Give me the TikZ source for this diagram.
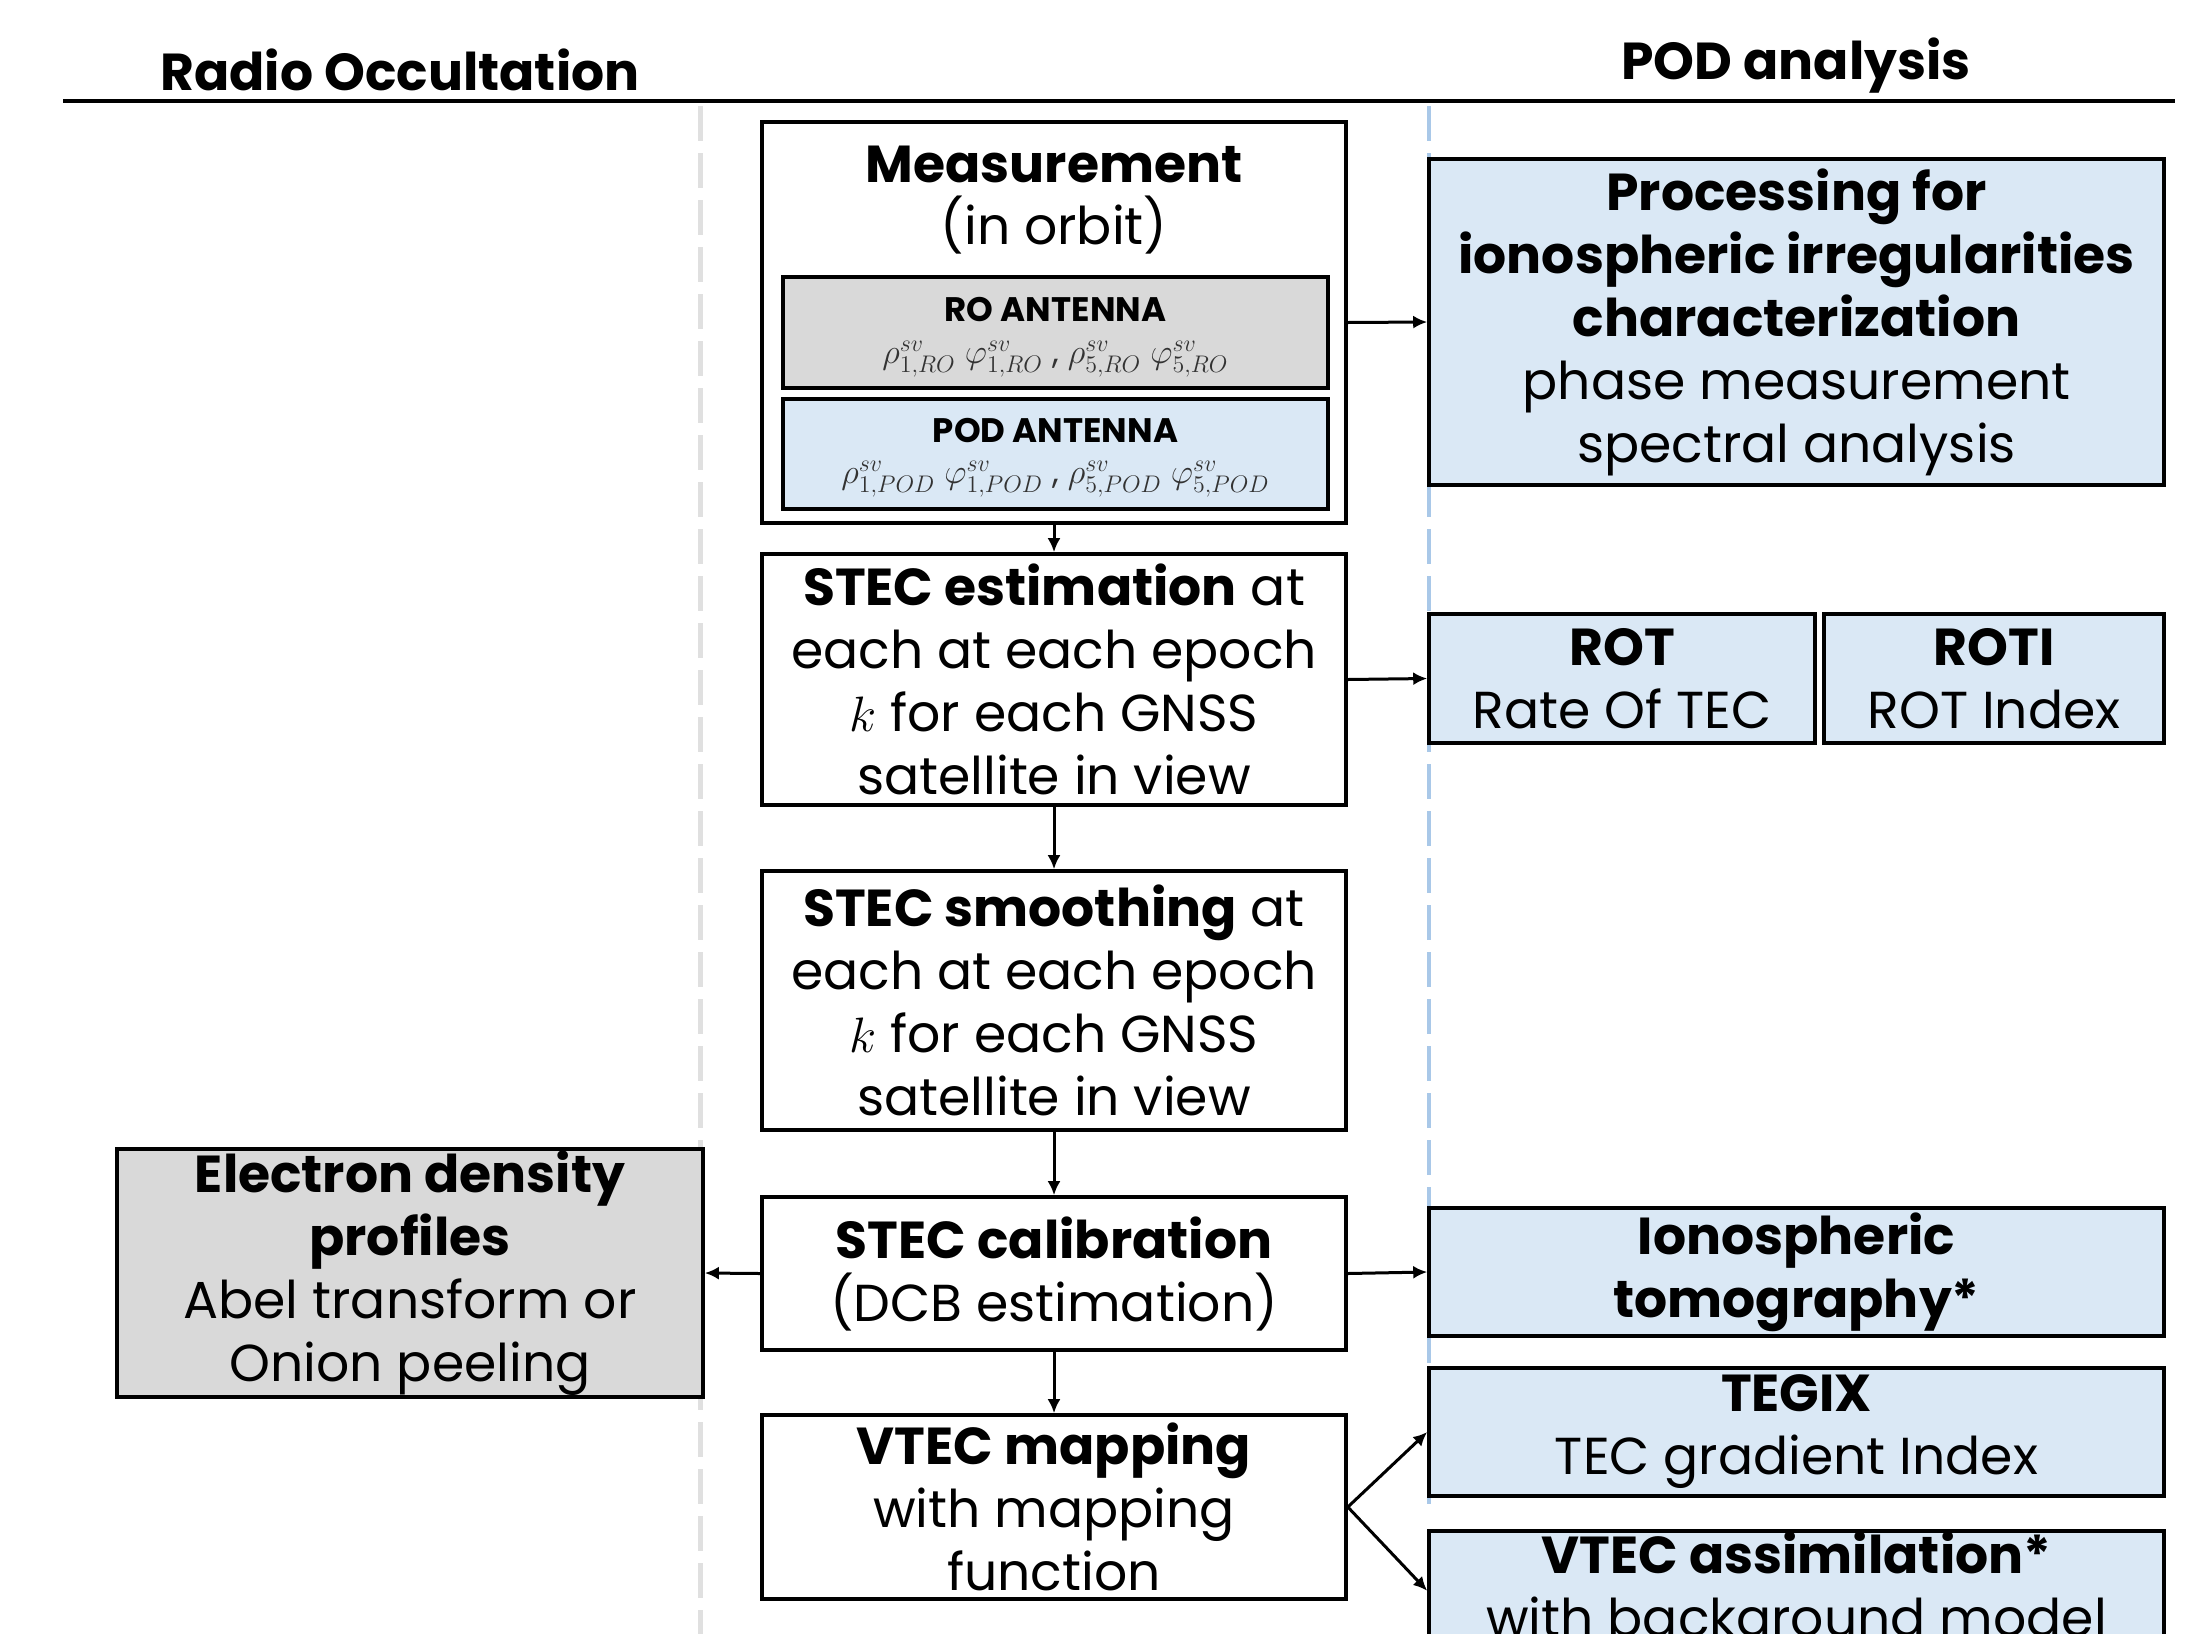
\documentclass[tikz,border=0pt]{standalone}
\usepackage{fontspec}
\setmainfont{Poppins}
\usetikzlibrary{arrows.meta,shadows}
\definecolor{boxblue}{HTML}{DAE8F5}
\definecolor{boxgray}{HTML}{D9D9D9}
\definecolor{sepblue}{HTML}{A9C8E8}
\definecolor{sepgray}{HTML}{E0E0E0}
\definecolor{formcol}{HTML}{333333}
\begin{document}
\begin{tikzpicture}[x=0.5pt,y=-0.5pt,
  sz/.style 2 args={minimum width=#1*0.5pt, minimum height=#2*0.5pt},
  box/.style={draw=black, line width=1.8pt, fill=white, inner sep=0pt, align=center,
    font=\fontsize{26}{31.5}\selectfont,
    drop shadow={shadow xshift=1.2pt, shadow yshift=-1.2pt, fill=black, opacity=0.45}},
  bluebox/.style={box, fill=boxblue},
  graybox/.style={box, fill=boxgray},
  antbox/.style={box, line width=1.6pt},
  anttitle/.style={inner sep=0pt, font=\bfseries\fontsize{17}{20}\selectfont},
  antform/.style={inner sep=0pt, text=formcol, font=\fontsize{17}{20}\selectfont},
  txt/.style={inner sep=0pt, align=center, font=\fontsize{26}{31.5}\selectfont},
  head/.style={inner sep=0pt, font=\bfseries\fontsize{26}{30}\selectfont},
  arr/.style={-{Latex[length=7pt,width=6.5pt]}, line width=1.5pt, black}]
\useasboundingbox (0,0) rectangle (2203,1633);
\clip (0,0) rectangle (2203,1633);
\fill[white] (0,0) rectangle (2203,1633);

% headers
\node[head] (hro) at (400,70) {Radio Occultation};
\node[head] (hpod) at (1796,66) {POD analysis};
\coordinate (hl) at (63,101);
\coordinate (hr) at (2175,101);
\draw[line width=2pt] (hl) -- (hr);

% separators
\coordinate (sg1) at (700,106);
\coordinate (sg2) at (700,1640);
\coordinate (sb1) at (1429,106);
\coordinate (sb2) at (1429,1513);
\draw[sepgray, line width=2.5pt, dash pattern=on 17.5pt off 6pt] (sg1) -- (sg2);
\draw[sepblue, line width=2pt, dash pattern=on 17.5pt off 6pt] (sb1) -- (sb2);

% central column
\node[box, sz={584}{401}] (meas) at (1054,322.5) {};
\node[txt, font=\bfseries\fontsize{26}{31.5}\selectfont] (measT) at (1054,164) {Measurement};
\node[txt] (measO) at (1054,225) {(in orbit)};
\node[antbox, fill=boxgray, sz={545}{111}] (ro) at (1055.5,332.5) {};
\node[anttitle] (roT) at (1055.5,310) {RO ANTENNA};
\node[antform] (roF) at (1055.5,359)
  {$\rho^{sv}_{1,RO}\ \varphi^{sv}_{1,RO}$ , $\rho^{sv}_{5,RO}\ \varphi^{sv}_{5,RO}$};
\node[antbox, fill=boxblue, sz={545}{110}] (pod) at (1055.5,454) {};
\node[anttitle] (podT) at (1055.5,431) {POD ANTENNA};
\node[antform] (podF) at (1055.5,479)
  {$\rho^{sv}_{1,POD}\ \varphi^{sv}_{1,POD}$ , $\rho^{sv}_{5,POD}\ \varphi^{sv}_{5,POD}$};

\node[box, sz={584}{251}] (est) at (1054,679.5)
  {\textbf{STEC estimation} at\\each at each epoch\\$k$ for each GNSS\\satellite in view};
\node[box, sz={584}{259}] (smo) at (1054,1000.5)
  {\textbf{STEC smoothing} at\\each at each epoch\\$k$ for each GNSS\\satellite in view};
\node[box, sz={584}{153}] (cal) at (1054,1273.5)
  {\textbf{STEC calibration}\\(DCB estimation)};
\node[box, sz={584}{184}] (vmap) at (1054,1507)
  {\textbf{VTEC mapping}\\with mapping\\function};

% left column
\node[graybox, sz={586}{248}] (elec) at (410,1273)
  {\textbf{Electron density}\\\textbf{profiles}\\Abel transform or\\Onion peeling};

% right column
\node[bluebox, sz={735}{326}] (proc) at (1796.5,322)
  {\textbf{Processing for}\\\textbf{ionospheric irregularities}\\\textbf{characterization}\\phase measurement\\spectral analysis};
\node[bluebox, sz={386}{129}] (rot) at (1622,678.5) {\textbf{ROT}\\Rate Of TEC};
\node[bluebox, sz={340}{129}] (roti) at (1994,678.5) {\textbf{ROTI}\\ROT Index};
\node[bluebox, sz={735}{128}] (iono) at (1796.5,1272) {\textbf{Ionospheric}\\\textbf{tomography*}};
\node[bluebox, sz={735}{128}] (tegix) at (1796.5,1432) {\textbf{TEGIX}\\TEC gradient Index};
\node[bluebox, sz={735}{120}, anchor=north] (vassim) at (1796.5,1529)
  {\textbf{VTEC assimilation*}\\with background model};

% connectors
\draw[arr] (meas) -- (est);
\draw[arr] (est) -- (smo);
\draw[arr] (smo) -- (cal);
\draw[arr] (cal) -- (vmap);
\draw[arr] (meas.east) -- (proc.west);
\draw[arr] (est.east) -- (rot.west);
\draw[arr] (cal.west) -- (elec.east);
\draw[arr] (cal.east) -- (iono.west);
\draw[arr] (vmap.east) -- (tegix.west);
\draw[arr] (vmap.east) -- (vassim.west);
\end{tikzpicture}
\end{document}
